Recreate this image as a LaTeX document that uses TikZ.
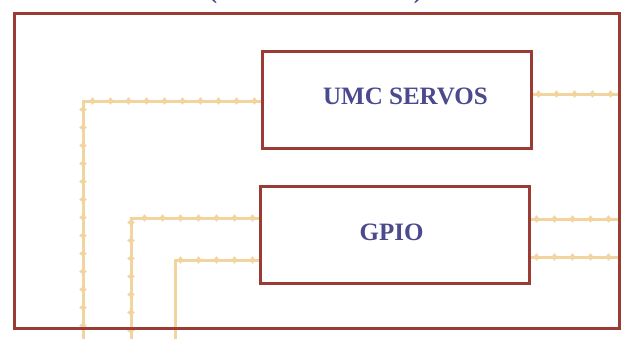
\documentclass[tikz,border=0pt]{standalone}
\usepackage{fontspec}
\setmainfont{Liberation Serif}
\usetikzlibrary{decorations.markings,calc}
\definecolor{framec}{HTML}{9A3C34}
\definecolor{textc}{HTML}{4B4A8E}
\definecolor{wirec}{HTML}{F2D49F}
\tikzset{
  blockbox/.style={draw=framec, line width=3pt, minimum width=269pt, minimum height=97pt, inner sep=0pt},
  lbl/.style={text=textc, font=\fontsize{25}{30}\selectfont\bfseries, inner sep=0pt},
  wire/.style={draw=wirec, line width=3pt},
  bumps/.style={postaction={decorate, decoration={markings,
      mark=between positions 6pt and 1 step 18pt with {\fill[wirec] (-3pt,0) -- (0,3.8pt) -- (3pt,0) -- (0,-3.8pt) -- cycle;}}}}
}
\begin{document}
\begin{tikzpicture}[x=1pt,y=-1pt]
\useasboundingbox (0,0) rectangle (621,338);
\clip (0,0) rectangle (621,338);
\fill[white] (0,0) rectangle (621,338);
% free ends
\coordinate (b1) at (83,345);
\coordinate (b2) at (131,345);
\coordinate (b3) at (175,345);
\coordinate (r1) at (625,0);
% wires (drawn under boxes)
\node[blockbox] (umc) at (396.5,99.5) {};
\node[blockbox] (gpio) at (394.5,234.5) {};
\draw[wire,bumps] ([yshift=-1.5pt]umc.west) -| (b1);
\draw[wire,bumps] ([yshift=16.5pt]gpio.west) -| (b2);
\draw[wire] ([yshift=-25.5pt]gpio.west) -| (b3);
\path[bumps] ([yshift=-25.5pt]gpio.west) -- ([yshift=-25.5pt]gpio.west -| b3);
\draw[wire,bumps] ([yshift=5.5pt]umc.east) -- ([yshift=5.5pt]umc.east -| r1);
\draw[wire,bumps] ([yshift=15.5pt]gpio.east) -- ([yshift=15.5pt]gpio.east -| r1);
\draw[wire,bumps] ([yshift=-22.5pt]gpio.east) -- ([yshift=-22.5pt]gpio.east -| r1);
% outer frame
\draw[framec, line width=3pt] (14.5,13.5) rectangle (619.5,328.5);
% boxes
\node[blockbox, fill=white] (umcb) at (396.5,99.5) {};
\node[blockbox, fill=white] (gpiob) at (394.5,234.5) {};
\node[lbl] (umct) at (405.5,96) {UMC SERVOS};
\node[lbl] (gpiot) at (391.5,232) {GPIO};
% clipped title parentheses (cut off at the top edge as in the reference)
\node[lbl, anchor=base] (lp) at (213,-2) {(};
\node[lbl, anchor=base] (rp) at (418,-2) {)};
\end{tikzpicture}
\end{document}
